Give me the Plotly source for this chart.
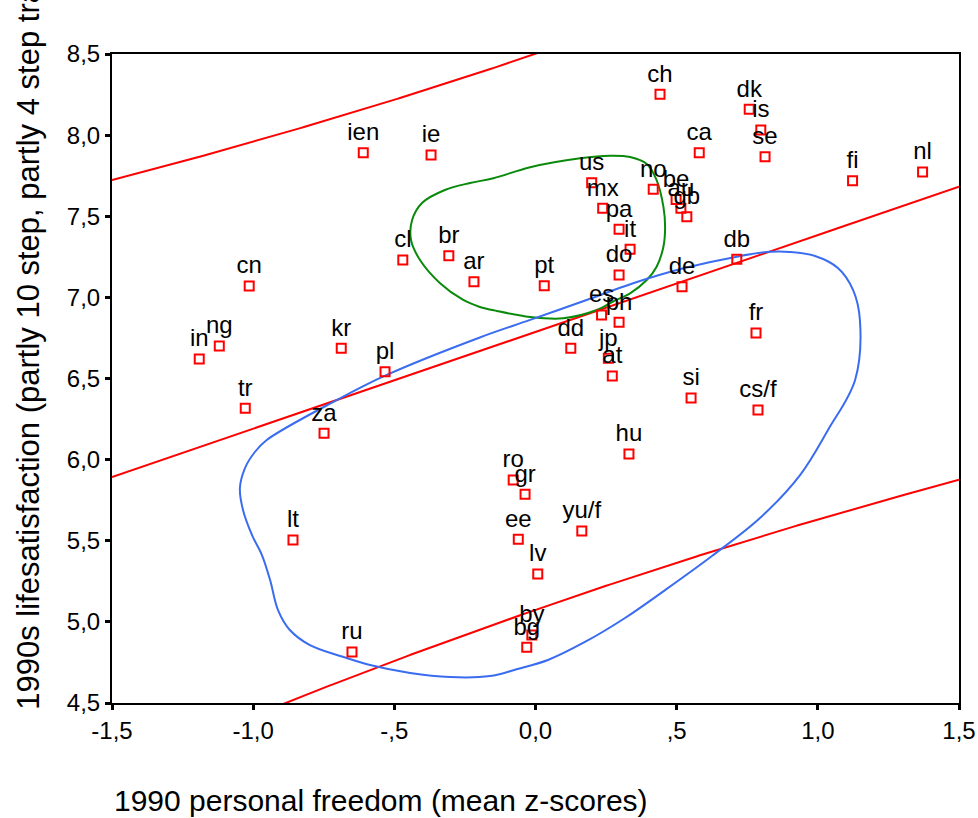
import numpy as np
import plotly.graph_objects as go

# Country codes with personal freedom (mean z-scores) and life satisfaction, 1990
countries = [
    "ch", "dk", "is", "se", "ca", "ien", "ie", "fi", "nl",
    "us", "mx", "no", "be", "au", "gb", "pa", "it", "do", "db", "de",
    "pt", "es", "ph", "dd", "jp", "at",
    "ro", "gr", "ee", "lv", "yu/f", "by", "bg",
    "cn", "ng", "in", "kr", "pl", "tr", "za", "cl", "br", "ar",
    "fr", "si", "cs/f", "hu", "lt", "ru",
]
freedom = [
    0.441, 0.757, 0.798, 0.813, 0.580, -0.610, -0.370, 1.123, 1.371,
    0.199, 0.238, 0.417, 0.498, 0.515, 0.536, 0.296, 0.335, 0.296, 0.713, 0.519,
    0.031, 0.234, 0.296, 0.125, 0.258, 0.272,
    -0.079, -0.037, -0.061, 0.008, 0.164, -0.013, -0.031,
    -1.014, -1.120, -1.191, -0.688, -0.533, -1.028, -0.749, -0.470, -0.307, -0.218,
    0.781, 0.551, 0.788, 0.331, -0.859, -0.650,
]
satisfaction = [
    8.252, 8.159, 8.032, 7.867, 7.892, 7.892, 7.878, 7.719, 7.773,
    7.707, 7.549, 7.666, 7.604, 7.549, 7.497, 7.420, 7.296, 7.138, 7.235, 7.066,
    7.072, 6.891, 6.846, 6.686, 6.625, 6.515,
    5.874, 5.786, 5.509, 5.295, 5.560, 4.919, 4.843,
    7.070, 6.700, 6.620, 6.686, 6.542, 6.316, 6.162, 7.230, 7.257, 7.097,
    6.780, 6.380, 6.306, 6.035, 5.505, 4.814,
]

# Hand-drawn group outlines (freedom, satisfaction)
green_x = [0.264, 0.335, 0.394, 0.429, 0.453, 0.459, 0.453, 0.429, 0.394, 0.335,
           0.282, 0.217, 0.098, -0.019, -0.137, -0.197, -0.256, -0.338, -0.409,
           -0.441, -0.437, -0.402, -0.321, -0.232, -0.149, -0.019, 0.158, 0.264]
green_y = [7.873, 7.865, 7.822, 7.723, 7.559, 7.436, 7.312, 7.189, 7.107, 7.025,
           6.981, 6.922, 6.871, 6.879, 6.916, 6.941, 6.984, 7.087, 7.230,
           7.354, 7.477, 7.582, 7.662, 7.705, 7.734, 7.802, 7.857, 7.873]

blue_x = [-0.952, -0.704, -0.527, -0.197, -0.019, 0.181, 0.346, 0.524, 0.713, 0.831,
          0.901, 0.990, 1.071, 1.125, 1.149, 1.132, 1.036, 0.937, 0.795, 0.625,
          0.459, 0.317, 0.175, 0.044, -0.067, -0.161, -0.303, -0.444,
          -0.586, -0.692, -0.799, -0.870, -0.912, -0.940, -0.969, -1.004, -1.036,
          -1.047, -1.029, -0.994, -0.952]
blue_y = [6.121, 6.367, 6.522, 6.753, 6.861, 6.984, 7.087, 7.179, 7.251, 7.281,
          7.280, 7.255, 7.181, 7.045, 6.861, 6.491, 6.183, 5.905, 5.640, 5.406,
          5.196, 5.024, 4.876, 4.765, 4.708, 4.666, 4.660, 4.685,
          4.734, 4.790, 4.857, 4.950, 5.073, 5.258, 5.412, 5.535, 5.690,
          5.825, 5.948, 6.047, 6.121]

x_ticks = [-1.5, -1.0, -0.5, 0.0, 0.5, 1.0, 1.5]
x_tick_text = ["-1,5", "-1,0", "-,5", "0,0", ",5", "1,0", "1,5"]
y_ticks = [4.5, 5.0, 5.5, 6.0, 6.5, 7.0, 7.5, 8.0, 8.5]
y_tick_text = ["4,5", "5,0", "5,5", "6,0", "6,5", "7,0", "7,5", "8,0", "8,5"]

# Least-squares fit with 95% individual prediction interval
x = np.array(freedom)
y = np.array(satisfaction)
n = len(x)
slope, intercept = np.polyfit(x, y, 1)
resid = y - (intercept + slope * x)
s = np.sqrt(np.sum(resid ** 2) / (n - 2))
xbar = x.mean()
sxx = np.sum((x - xbar) ** 2)
T95 = 2.0117  # two-sided 95% t quantile, df = n - 2
grid = np.linspace(-1.5, 1.5, 301)
fit = intercept + slope * grid
half = T95 * s * np.sqrt(1 + 1 / n + (grid - xbar) ** 2 / sxx)

FONT = "Liberation Sans, Arial, sans-serif"
RED = "#ff0000"

fig = go.Figure()

fig.add_trace(go.Scatter(x=grid, y=fit + half, mode="lines",
                         line=dict(color=RED, width=2), hoverinfo="skip"))
fig.add_trace(go.Scatter(x=grid, y=fit - half, mode="lines",
                         line=dict(color=RED, width=2), hoverinfo="skip"))
fig.add_trace(go.Scatter(x=grid, y=fit, mode="lines",
                         line=dict(color=RED, width=2), hoverinfo="skip"))

fig.add_trace(go.Scatter(x=green_x, y=green_y, mode="lines",
                         line=dict(color="#0a8a0a", width=2, shape="spline", smoothing=1.0),
                         hoverinfo="skip"))
fig.add_trace(go.Scatter(x=blue_x, y=blue_y, mode="lines",
                         line=dict(color="#3a6cf0", width=2, shape="spline", smoothing=1.0),
                         hoverinfo="skip"))

fig.add_trace(go.Scatter(
    x=freedom, y=satisfaction, text=countries,
    mode="markers+text", textposition="top center",
    textfont=dict(family=FONT, size=24, color="black"),
    marker=dict(symbol="square-open", size=9, color=RED, line=dict(color=RED, width=2)),
    cliponaxis=False,
))

axis_common = dict(
    showgrid=False, zeroline=False, showline=True, mirror=True,
    linecolor="black", linewidth=2, automargin=False,
    ticks="outside", ticklen=5, tickwidth=3, tickcolor="black",
    tickfont=dict(family=FONT, size=24, color="black"),
)

fig.update_xaxes(range=[-1.5, 1.5], tickvals=x_ticks, ticktext=x_tick_text, **axis_common)
fig.update_yaxes(range=[4.5, 8.5], tickvals=y_ticks, ticktext=y_tick_text, **axis_common)

fig.add_annotation(
    text="1990 personal freedom (mean z-scores)",
    xref="paper", yref="paper", x=0.0, y=-0.15,
    xanchor="left", yanchor="middle", showarrow=False,
    font=dict(family=FONT, size=30, color="black"),
)
fig.add_annotation(
    text="1990s lifesatisfaction (partly 10 step, partly 4 step transformed)",
    xref="paper", yref="paper", x=-0.099, y=-0.014,
    xanchor="center", yanchor="bottom", textangle=-90, showarrow=False,
    font=dict(family=FONT, size=31, color="black"),
)

fig.update_layout(
    width=978, height=818,
    margin=dict(l=112, r=19, t=54, b=115),
    paper_bgcolor="white", plot_bgcolor="white",
    showlegend=False,
)

fig.write_html("out.html")
